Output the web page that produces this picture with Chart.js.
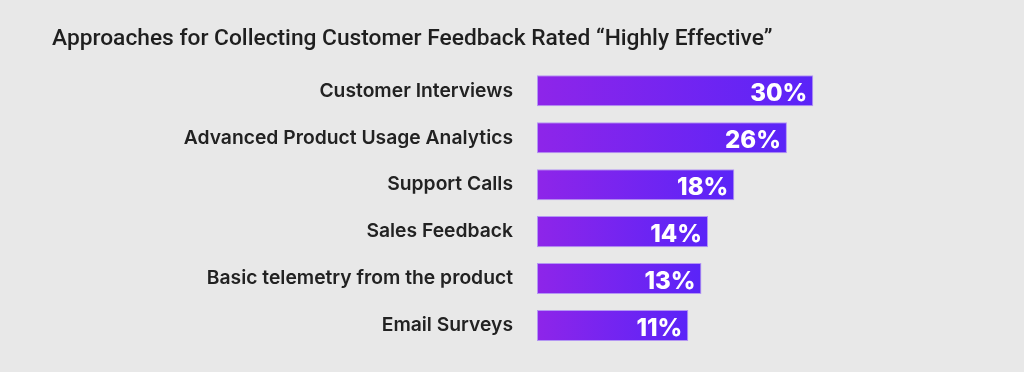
<!DOCTYPE html>
<html>
<head>
<meta charset="utf-8">
<script src="https://cdn.jsdelivr.net/npm/chart.js@4"></script>
<style>
html,body{margin:0;padding:0;background:#e8e8e8;}
#wrap{width:1024px;height:372px;position:relative;}
</style>
</head>
<body>
<div id="wrap"><canvas id="c" width="1024" height="372"></canvas></div>
<script>
const TITLE = 'Approaches for Collecting Customer Feedback Rated \u201cHighly Effective\u201d';
const categories = ['Customer Interviews','Advanced Product Usage Analytics','Support Calls','Sales Feedback','Basic telemetry from the product','Email Surveys'];
const values = [30, 26, 18, 14, 13, 11];
const valueLabels = ['30%','26%','18%','14%','13%','11%'];

const AXIS_MIN = -12;
const AXIS_MAX = 59;

const valueLabelPlugin = {
  id: 'valueLabels',
  afterDatasetsDraw(chart) {
    const ctx = chart.ctx;
    const meta = chart.getDatasetMeta(0);
    ctx.save();
    ctx.fillStyle = '#ffffff';
    ctx.font = '800 24px Inter';
    ctx.textAlign = 'right';
    ctx.textBaseline = 'alphabetic';
    meta.data.forEach((bar, i) => {
      ctx.fillText(valueLabels[i], bar.x - 6, bar.y + 10);
    });
    ctx.restore();
  }
};

new Chart(document.getElementById('c'), {
  type: 'bar',
  data: {
    labels: categories,
    datasets: [{
      data: values,
      base: AXIS_MIN,
      backgroundColor(context) {
        const chart = context.chart;
        const xs = chart.scales.x;
        if (!xs || context.parsed === undefined) return '#7324f0';
        const x0 = xs.getPixelForValue(AXIS_MIN);
        const x1 = xs.getPixelForValue(context.parsed.x);
        if (!isFinite(x0) || !isFinite(x1) || x1 <= x0) return '#7324f0';
        const g = chart.ctx.createLinearGradient(x0, 0, x1, 0);
        g.addColorStop(0, '#8E25E9');
        g.addColorStop(1, '#5A24F8');
        return g;
      },
      borderColor: 'rgba(170,135,245,0.85)',
      borderWidth: 1,
      borderSkipped: false,
      barPercentage: 0.661,
      categoryPercentage: 1.0
    }]
  },
  options: {
    indexAxis: 'y',
    responsive: false,
    animation: false,
    layout: { padding: { left: 52, right: 20, top: 10, bottom: 23 } },
    plugins: {
      legend: { display: false },
      tooltip: { enabled: false },
      title: {
        display: true,
        text: TITLE,
        align: 'start',
        color: '#1f1f1f',
        font: { family: 'Roboto', size: 22.75, weight: '500' },
        padding: { top: 16, bottom: 14 }
      }
    },
    scales: {
      x: {
        type: 'linear',
        min: AXIS_MIN,
        max: AXIS_MAX,
        display: false,
        grid: { display: false },
        afterFit(scale) { scale.height = 0; }
      },
      y: {
        type: 'category',
        grid: { display: false, drawTicks: false },
        border: { display: false },
        ticks: {
          color: '#222222',
          font: { family: 'Inter', size: 19.3, weight: '600' },
          padding: 24
        },
        afterFit(scale) { scale.width = 485; scale.paddingTop = 0; scale.paddingBottom = 0; }
      }
    }
  },
  plugins: [valueLabelPlugin]
});
</script>
</body>
</html>
